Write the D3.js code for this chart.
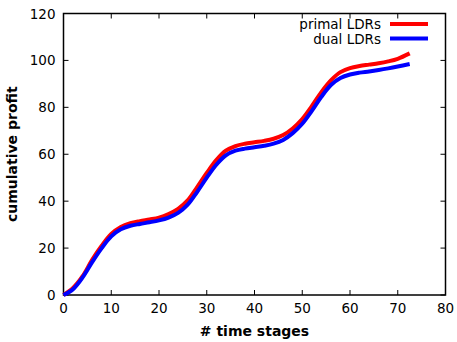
<!DOCTYPE html>
<html><head><meta charset="utf-8">
<script src="https://cdn.jsdelivr.net/npm/d3@7"></script>
<style>body{margin:0;background:#fff}svg{display:block}text{font-family:"DejaVu Sans",sans-serif}</style>
</head><body>
<script>
const stages = [0,2,4,6,8,10,12,14,16,18,20,22,24,26,28,30,32,34,36,38,40,42,44,46,48,50,52,54,56,58,60,62,64,66,68,70,72.5];
const primal = [0,3,8,15,21,26,29,30.6,31.5,32.2,33,34.5,36.7,40.3,46,52,57.5,61.5,63.5,64.5,65.1,65.7,66.6,68.2,71,75,80.5,86.5,91.5,95,96.7,97.6,98.2,98.8,99.6,100.7,103];
const dual = [0,2.5,7.5,14,20,25,28,29.5,30.3,31,31.8,33,35,38.5,44,50,55.5,59.5,61.5,62.4,63,63.6,64.5,66.1,69,73,78.5,84.5,89.5,92.5,94,94.8,95.3,95.9,96.6,97.4,98.5];
const xTicks = [0,10,20,30,40,50,60,70,80];
const yTicks = [0,20,40,60,80,100,120];
const seriesNames = ["primal LDRs","dual LDRs"];
const seriesColors = ["#ff0000","#0000ff"];

const W=457,H=342, L=63.5, R=445.5, T=13.5, B=295;
const svg = d3.select("body").append("svg").attr("width",W).attr("height",H);
const x = d3.scaleLinear().domain([0,80]).range([L,R]);
const y = d3.scaleLinear().domain([0,120]).range([B,T]);

const tl=5;
const g = svg.append("g").attr("stroke","#000").attr("stroke-width",1);
xTicks.forEach(v=>{
  g.append("line").attr("x1",x(v)).attr("x2",x(v)).attr("y1",B).attr("y2",B-tl);
  g.append("line").attr("x1",x(v)).attr("x2",x(v)).attr("y1",T).attr("y2",T+tl);
});
yTicks.forEach(v=>{
  g.append("line").attr("x1",L).attr("x2",L+tl).attr("y1",y(v)).attr("y2",y(v));
  g.append("line").attr("x1",R).attr("x2",R-tl).attr("y1",y(v)).attr("y2",y(v));
});
svg.append("rect").attr("x",L).attr("y",T).attr("width",R-L).attr("height",B-T)
  .attr("fill","none").attr("stroke","#000").attr("stroke-width",1.5);

svg.selectAll(".xt").data(xTicks).enter().append("text")
  .attr("x",d=>x(d)).attr("y",B+18).attr("text-anchor","middle").attr("font-size",13.5).text(d=>d);
svg.selectAll(".yt").data(yTicks).enter().append("text")
  .attr("x",L-8).attr("y",d=>y(d)+5).attr("text-anchor","end").attr("font-size",13.5).text(d=>d);

svg.append("text").attr("x",(L+R)/2).attr("y",336).attr("text-anchor","middle")
  .attr("font-size",14).attr("font-weight","bold").text("# time stages");
svg.append("text").attr("transform",`translate(17,${(T+B)/2}) rotate(-90)`).attr("text-anchor","middle")
  .attr("font-size",14).attr("font-weight","bold").text("cumulative profit");

const line = d3.line().x((d,i)=>x(stages[i])).y(d=>y(d)).curve(d3.curveCatmullRom.alpha(0.5));
[primal,dual].forEach((s,k)=>{
  svg.append("path").attr("d",line(s)).attr("fill","none").attr("stroke",seriesColors[k])
    .attr("stroke-width",4).attr("stroke-linejoin","round");
});

seriesNames.forEach((n,k)=>{
  const yy = 24 + k*14.5;
  svg.append("text").attr("x",381).attr("y",yy+5).attr("text-anchor","end").attr("font-size",13.5).text(n);
  svg.append("line").attr("x1",390).attr("x2",428).attr("y1",yy).attr("y2",yy)
    .attr("stroke",seriesColors[k]).attr("stroke-width",4);
});
</script>
</body></html>
